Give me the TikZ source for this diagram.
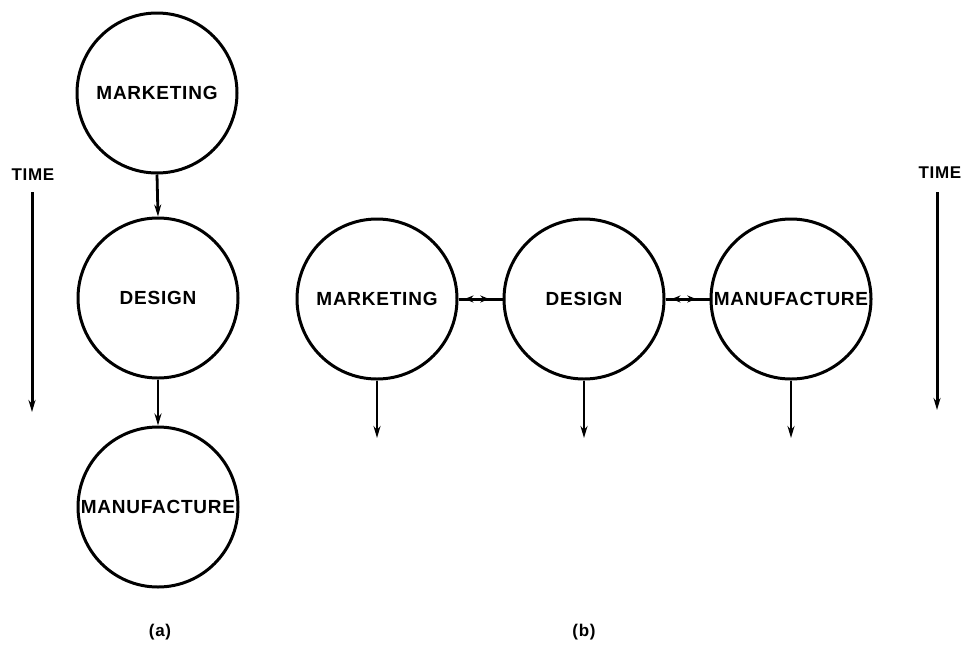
\documentclass[tikz,border=0pt]{standalone}
\usepackage{fontspec}
\setmainfont{Liberation Sans}
\newfontfamily\widefont[LetterSpace=4]{Liberation Sans}
\usetikzlibrary{arrows.meta,decorations.markings}
\begin{document}
\begin{tikzpicture}[x=1pt,y=-1pt,
  proc/.style={circle,draw,line width=3pt,minimum size=160pt,inner sep=0pt},
  lbl/.style={font=\widefont\fontsize{19}{22}\selectfont\bfseries},
  flow/.style={line width=2.8pt,-{Stealth[length=12pt,width=7pt]}},
  timearrow/.style={line width=3pt,-{Stealth[length=12pt,width=7pt]}},
  link/.style={line width=3pt,postaction={decorate},
    decoration={markings,
      mark=at position 0.34 with {\arrow{Stealth[reversed,length=9pt,width=7pt]}},
      mark=at position 0.70 with {\arrow{Stealth[length=9pt,width=7pt]}}}},
  caption/.style={font=\widefont\fontsize{17}{20}\selectfont\bfseries}]
\useasboundingbox (0,0) rectangle (963,659);
% (a)
\node[proc,label={[lbl]center:MARKETING}] (mA) at (157,93) {};
\node[proc,label={[lbl]center:DESIGN}] (dA) at (158,298) {};
\node[proc,label={[lbl]center:MANUFACTURE}] (fA) at (158,507) {};
\draw[flow] (mA.south) -- (dA.north);
\draw[flow] (dA.south) -- (fA.north);
\node[caption] (ta) at (33,175) {TIME};
\coordinate (ta1) at (32,192);
\coordinate (ta2) at (32,412);
\draw[timearrow] (ta1) -- (ta2);
\node[caption] (capa) at (160,632) {(a)};
% (b)
\node[proc,label={[lbl]center:MARKETING}] (mB) at (377,299) {};
\node[proc,label={[lbl]center:DESIGN}] (dB) at (584,299) {};
\node[proc,label={[lbl]center:MANUFACTURE}] (fB) at (791,299) {};
\draw[link] (mB.east) -- (dB.west);
\draw[link] (dB.east) -- (fB.west);
\coordinate (mBd) at (377,438);
\coordinate (dBd) at (584,438);
\coordinate (fBd) at (791,438);
\draw[flow] (mB.south) -- (mBd);
\draw[flow] (dB.south) -- (dBd);
\draw[flow] (fB.south) -- (fBd);
\node[caption] (tb) at (940,173) {TIME};
\coordinate (tb1) at (937,192);
\coordinate (tb2) at (937,410);
\draw[timearrow] (tb1) -- (tb2);
\node[caption] (capb) at (584,632) {(b)};
\end{tikzpicture}
\end{document}
